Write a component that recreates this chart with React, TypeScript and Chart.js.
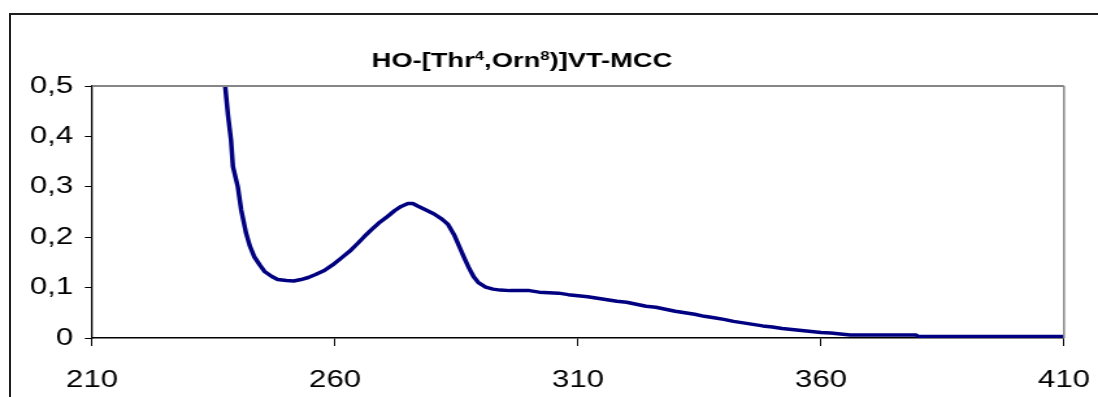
import React, { useEffect, useRef } from "react";
import { Chart, registerables } from "chart.js";

Chart.register(...registerables);

// ---- data ----
const wavelengths = [
  236, 237.4, 238, 238.6, 239, 240, 240.7, 241.7, 242.5, 243.4, 244.5, 245.5, 247, 248.2,
  250, 251.5, 253, 254.5, 256, 257.8, 259.5, 261.2, 263, 264.7, 266, 267.4, 269, 270.8,
  272.3, 273.6, 275, 276, 277, 278.5, 280.4, 282, 283.2, 284.5, 285.5, 286.5, 287.5,
  288.5, 289.5, 291, 292.5, 294, 296, 298, 300, 302, 304, 306, 308, 310, 312, 314, 316,
  318, 320, 322, 324, 326, 328, 330, 332, 334, 336, 338, 340, 342, 344, 346, 348, 350,
  352, 354, 356, 358, 360, 362, 364, 366, 370, 375, 379.5, 380, 390, 400, 410,
];
const absorbance = [
  0.56, 0.5, 0.44, 0.393, 0.34, 0.3, 0.254, 0.208, 0.182, 0.161, 0.145, 0.132, 0.122, 0.116,
  0.114, 0.113, 0.116, 0.12, 0.126, 0.134, 0.145, 0.158, 0.172, 0.188, 0.201, 0.214, 0.228, 0.241,
  0.253, 0.261, 0.267, 0.267, 0.262, 0.255, 0.246, 0.236, 0.226, 0.205, 0.183, 0.161, 0.14,
  0.122, 0.11, 0.101, 0.097, 0.095, 0.094, 0.094, 0.094, 0.091, 0.09, 0.089, 0.086, 0.084, 0.082, 0.079, 0.076,
  0.073, 0.071, 0.067, 0.063, 0.061, 0.057, 0.053, 0.05, 0.047, 0.043, 0.04, 0.037, 0.033, 0.03, 0.027, 0.024, 0.022,
  0.019, 0.017, 0.015, 0.013, 0.011, 0.01, 0.008, 0.006, 0.006, 0.006, 0.006, 0.003, 0.003, 0.003, 0.003,
];
const xTicks = [210, 260, 310, 360, 410];
const yTicks = [0, 0.1, 0.2, 0.3, 0.4, 0.5];
const titleParts = [
  { text: "HO-[Thr", sup: false },
  { text: "4", sup: true },
  { text: ",Orn", sup: false },
  { text: "8", sup: true },
  { text: ")]VT-MCC", sup: false },
];

// ---- layout ----
const OUT_W = 1098;
const OUT_H = 397;
const STRETCH = 1.3;
const W = Math.round(OUT_W / STRETCH);
const SX = OUT_W / W;
const PLOT_LEFT = 92 / SX;
const PLOT_RIGHT = 1064 / SX;
const PLOT_TOP = 86;
const PLOT_BOTTOM = 338;
const FONT = '"Liberation Sans", Arial, sans-serif';

const fmtY = (v: number) => (v === 0 ? "0" : v.toFixed(1).replace(".", ","));

export default function App() {
  const ref = useRef<HTMLCanvasElement | null>(null);

  useEffect(() => {
    if (!ref.current) return;
    const frame = {
      id: "frame",
      afterDraw(chart: any) {
        const { ctx, chartArea } = chart;
        ctx.save();
        ctx.strokeStyle = "#868686";
        ctx.lineWidth = 2;
        ctx.beginPath();
        ctx.moveTo(chartArea.left, chartArea.top);
        ctx.lineTo(chartArea.right, chartArea.top);
        ctx.stroke();
        ctx.lineWidth = 1.5;
        ctx.beginPath();
        ctx.moveTo(chartArea.right, chartArea.top);
        ctx.lineTo(chartArea.right, chartArea.bottom);
        ctx.stroke();
        // title
        const big = `bold 21px ${FONT}`;
        const small = `bold 13px ${FONT}`;
        let total = 0;
        for (const p of titleParts) {
          ctx.font = p.sup ? small : big;
          total += ctx.measureText(p.text).width;
        }
        let x = 522 / SX - total / 2;
        const baseY = 67;
        ctx.fillStyle = "#000";
        ctx.textBaseline = "alphabetic";
        ctx.textAlign = "left";
        for (const p of titleParts) {
          ctx.font = p.sup ? small : big;
          ctx.fillText(p.text, x, p.sup ? baseY - 7.5 : baseY);
          x += ctx.measureText(p.text).width;
        }
        ctx.restore();
      },
    };

    const chart = new Chart(ref.current, {
      type: "line",
      data: {
        datasets: [
          {
            data: wavelengths.map((w, i) => ({ x: w, y: absorbance[i] })),
            borderColor: "#000080",
            borderWidth: 3.5,
            pointRadius: 0,
            tension: 0,
            fill: false,
            borderJoinStyle: "round",
            borderCapStyle: "round",
          } as any,
        ],
      },
      options: {
        responsive: false,
        devicePixelRatio: 1,
        animation: false,
        events: [],
        layout: {
          padding: { left: 0, right: W - PLOT_RIGHT, top: PLOT_TOP, bottom: 0 },
        },
        plugins: {
          legend: { display: false },
          tooltip: { enabled: false },
          title: { display: false },
        },
        scales: {
          x: {
            type: "linear",
            min: 210,
            max: 410,
            afterBuildTicks: (s: any) => {
              s.ticks = xTicks.map((v) => ({ value: v }));
            },
            afterFit: (s: any) => {
              s.height = OUT_H - PLOT_BOTTOM;
              s.paddingLeft = 0;
              s.paddingRight = 0;
            },
            ticks: {
              color: "#000",
              font: { family: FONT, size: 24 },
              padding: 20,
              maxRotation: 0,
              autoSkip: false,
              callback: (v: any) => String(v),
            },
            grid: {
              display: true,
              drawOnChartArea: false,
              drawTicks: true,
              tickLength: 8,
              tickColor: "#000",
              color: "#000",
              lineWidth: 1,
            },
            border: { display: true, color: "#000", width: 1.5 },
          },
          y: {
            type: "linear",
            min: 0,
            max: 0.5,
            afterBuildTicks: (s: any) => {
              s.ticks = yTicks.map((v) => ({ value: v }));
            },
            afterFit: (s: any) => {
              s.width = PLOT_LEFT;
              s.paddingTop = 0;
              s.paddingBottom = 0;
            },
            ticks: {
              color: "#000",
              font: { family: FONT, size: 24 },
              padding: 9,
              autoSkip: false,
              callback: (v: any) => fmtY(Number(v)),
            },
            grid: {
              display: true,
              drawOnChartArea: false,
              drawTicks: true,
              tickLength: 5.5,
              tickColor: "#000",
              color: "#000",
              lineWidth: 1,
            },
            border: { display: true, color: "#000", width: 1.3 },
          },
        },
      } as any,
      plugins: [frame],
    });
    return () => chart.destroy();
  }, []);

  return (
    <div
      style={{
        position: "fixed",
        left: 0,
        top: 0,
        width: OUT_W,
        height: OUT_H,
        overflow: "hidden",
        background: "#fff",
      }}
    >
      <div
        style={{
          position: "absolute",
          left: 0,
          top: 0,
          width: W,
          height: OUT_H,
          transform: `scaleX(${SX})`,
          transformOrigin: "0 0",
        }}
      >
        <canvas ref={ref} width={W} height={OUT_H} style={{ display: "block" }} />
      </div>
      <div
        style={{
          position: "absolute",
          left: 9,
          top: 13,
          width: 1400,
          height: 600,
          borderLeft: "2px solid #1e1e1e",
          borderTop: "2px solid #1e1e1e",
          pointerEvents: "none",
        }}
      />
    </div>
  );
}
